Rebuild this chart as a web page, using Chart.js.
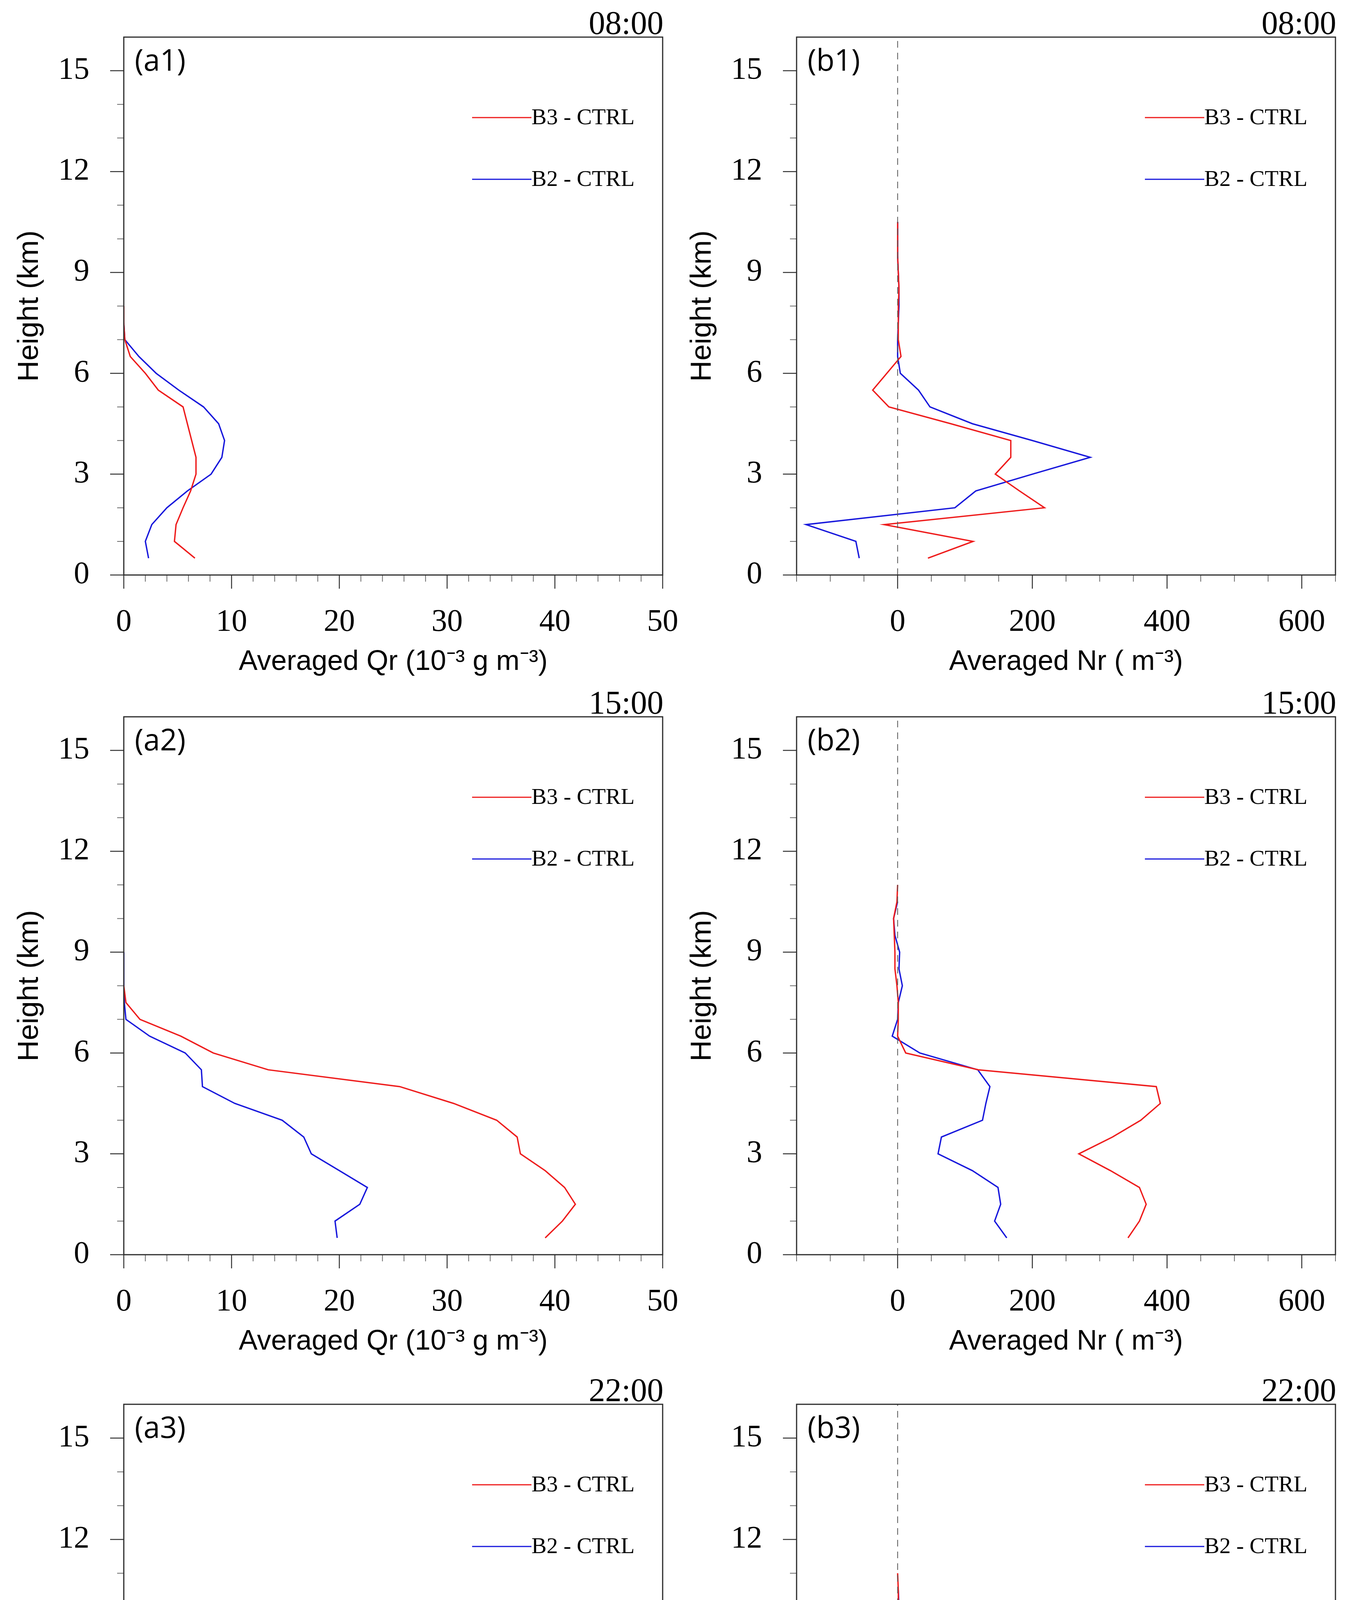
<!DOCTYPE html>
<html>
<head>
<meta charset="utf-8">
<title>Averaged Qr / Nr profiles</title>
<script src="https://cdn.jsdelivr.net/npm/chart.js@4.4.0/dist/chart.umd.min.js"></script>
<style>
  html, body { margin: 0; padding: 0; background: #fff; }
  #page { position: relative; width: 3447px; height: 5247px; overflow: hidden; }
  #page canvas { position: absolute; }
</style>
</head>
<body>
<div id="page">
  <canvas id="a1" width="1800" height="1740" style="left:0;top:0"></canvas>
  <canvas id="b1" width="1724" height="1740" style="left:1723px;top:0"></canvas>
  <canvas id="a2" width="1800" height="1740" style="left:0;top:1740px"></canvas>
  <canvas id="b2" width="1724" height="1740" style="left:1723px;top:1740px"></canvas>
  <canvas id="a3" width="1800" height="1747" style="left:0;top:3500px"></canvas>
  <canvas id="b3" width="1724" height="1747" style="left:1723px;top:3500px"></canvas>
</div>
<script>
// model levels (km), values below are listed from the lowest level upward
const heightKm = [0.5, 1, 1.5, 2, 2.5, 3, 3.5, 4, 4.5, 5, 5.5, 6, 6.5, 7, 7.5, 8, 8.5, 9, 9.5, 10, 10.5, 11];

const seriesLabels = ['B3 - CTRL', 'B2 - CTRL'];
const timeLabels = ['08:00', '15:00', '22:00'];
const panelTags = ['(a1)', '(b1)', '(a2)', '(b2)', '(a3)', '(b3)'];

// Averaged Qr (10^-3 g m^-3)
const qrB3_08 = [6.6, 4.7, 4.85, 5.5, 6.2, 6.7, 6.7, 6.3, 5.9, 5.5, 3.2, 2.0, 0.6, 0.1, 0, 0];
const qrB2_08 = [2.3, 2.0, 2.6, 4.0, 5.9, 8.1, 9.1, 9.35, 8.8, 7.4, 5.1, 3.0, 1.4, 0.1, 0];
const qrB3_15 = [39.1, 40.7, 41.9, 40.9, 39.1, 36.8, 36.5, 34.6, 30.6, 25.6, 13.4, 8.3, 5.3, 1.5, 0.2, 0];
const qrB2_15 = [19.8, 19.6, 21.9, 22.6, 20.0, 17.4, 16.7, 14.7, 10.3, 7.3, 7.2, 5.7, 2.4, 0.2, 0.05, 0, 0, 0];
const qrB3_22 = [26.2, 25.3, 26.6, 26.1, 23.9, 20.9, 17.2, 14.2, 12.8, 12.1, 6.7, 1.6, 0.4, 0, 0, 0, 0, 0, 0, 0];
const qrB2_22 = [14.3, 15.2, 16.7, 18.1, 17.5, 15.5, 12.6, 9.7, 10.6, 13.5, 9.4, 2.0, 0];

// Averaged Nr (m^-3)
const nrB3_08 = [45, 112, -20, 218, 181, 145, 168, 168, 79, -13, -37, -16, 5, 1, 1, 1, 2, 1, 0, 0, 0];
const nrB2_08 = [-57, -62, -136, 85, 116, 200, 286, 200, 111, 48, 31, 4, 0, 0, 1, 2, 2, 1, 0, 0, 0];
const nrB3_15 = [342, 359, 369, 359, 316, 269, 319, 361, 390, 384, 120, 12, 0, 1, 1, -1, -4, -4, -5, -6, -1, 0];
const nrB2_15 = [162, 144, 153, 149, 111, 60, 65, 126, 131, 137, 119, 33, -8, 0, 1, 7, 2, 3, -4, -6, 0];
const nrB3_22 = [644, 519, 483, 447, 338, 312, 338, 253, 231, 235, 42, -29, -16, -3, -16, -6, 26, 36, 8, 1, 1, 0];
const nrB2_22 = [220, 342, 303, 285, 296, 185, 131, 135, 282, 429, 390, 223, 56, 7, -10, 3, 1, 6, 4, 2, 1];

// axes
const heightRange = [0, 16];
const heightTicks = [0, 3, 6, 9, 12, 15];
const heightMinor = [1, 2, 4, 5, 7, 8, 10, 11, 13, 14];
const qrRange = [0, 50];
const qrTicks = [0, 10, 20, 30, 40, 50];
const qrMinor = [2, 4, 6, 8, 12, 14, 16, 18, 22, 24, 26, 28, 32, 34, 36, 38, 42, 44, 46, 48];
const nrRange = [-150, 650];
const nrTicks = [0, 200, 400, 600];
const nrMinor = [-150, -100, -50, 50, 100, 150, 250, 300, 350, 450, 500, 550, 650];
const zeroLineX = 0;

const qrTitle = 'Averaged Qr (10\u207B\u00B3 g m\u207B\u00B3)';
const nrTitle = 'Averaged Nr ( m\u207B\u00B3)';
const heightTitle = 'Height (km)';

const RED = '#ee1c1c';
const BLUE = '#1717dc';

function profile(values) {
    return values.map((v, i) => ({ x: v, y: heightKm[i] }));
}

// frame, outward tick marks, time stamp, panel tag and in-plot legend
const panelDecor = {
    id: 'panelDecor',
    afterDraw(chart, args, o) {
        const { ctx, chartArea: a, scales: { x, y } } = chart;
        ctx.save();
        ctx.lineCap = 'butt';

        ctx.strokeStyle = '#6a6a6a';
        ctx.lineWidth = 2;
        ctx.beginPath();
        o.xMinor.forEach(v => {
            const px = x.getPixelForValue(v);
            ctx.moveTo(px, a.bottom); ctx.lineTo(px, a.bottom + 17);
        });
        heightMinor.forEach(v => {
            const py = y.getPixelForValue(v);
            ctx.moveTo(a.left, py); ctx.lineTo(a.left - 17, py);
        });
        ctx.stroke();

        ctx.strokeStyle = '#333';
        ctx.lineWidth = 2.5;
        ctx.beginPath();
        o.xMajor.forEach(v => {
            const px = x.getPixelForValue(v);
            ctx.moveTo(px, a.bottom); ctx.lineTo(px, a.bottom + 35);
        });
        heightTicks.forEach(v => {
            const py = y.getPixelForValue(v);
            ctx.moveTo(a.left, py); ctx.lineTo(a.left - 35, py);
        });
        ctx.stroke();

        ctx.strokeStyle = '#2b2b2b';
        ctx.lineWidth = 3;
        ctx.strokeRect(a.left, a.top, a.right - a.left, a.bottom - a.top);

        ctx.fillStyle = '#000';
        ctx.font = '84px "Liberation Serif"';
        ctx.textAlign = 'right';
        ctx.textBaseline = 'alphabetic';
        ctx.fillText(o.time, a.right + 2, a.top - 8);

        ctx.font = '76px "Open Sans"';
        ctx.textAlign = 'left';
        ctx.textBaseline = 'middle';
        ctx.fillText(o.tag, a.left + 28, a.top + 64);

        ctx.font = '58px "Liberation Serif"';
        seriesLabels.forEach((label, i) => {
            const ly = a.top + 206 + i * 158;
            ctx.strokeStyle = i === 0 ? RED : BLUE;
            ctx.lineWidth = 3;
            ctx.beginPath();
            ctx.moveTo(a.left + 892, ly);
            ctx.lineTo(a.left + 1044, ly);
            ctx.stroke();
            ctx.fillText(label, a.left + 1044, ly + 2);
        });
        ctx.restore();
    }
};

function makePanel(id, kind, tag, time, b3, b2) {
    const isNr = kind === 'nr';
    const datasets = [
        { label: seriesLabels[0], data: profile(b3), borderColor: RED },
        { label: seriesLabels[1], data: profile(b2), borderColor: BLUE }
    ].map(d => Object.assign(d, { showLine: true, pointRadius: 0, borderWidth: 3.5, tension: 0, fill: false }));
    if (isNr) {
        datasets.unshift({
            label: 'zero',
            data: heightRange.map(h => ({ x: zeroLineX, y: h })),
            showLine: true, pointRadius: 0, borderWidth: 2,
            borderColor: '#555', borderDash: [17, 13], fill: false
        });
    }
    const xRange = isNr ? nrRange : qrRange;
    const xMajor = isNr ? nrTicks : qrTicks;
    const xMinor = isNr ? nrMinor : qrMinor;
    // plot area always spans 317..1697 inside its canvas
    const canvas = document.getElementById(id);
    const rightPad = canvas.width - 1697;

    return new Chart(canvas, {
        type: 'scatter',
        data: { datasets: datasets },
        options: {
            responsive: false,
            devicePixelRatio: 1,
            animation: false,
            events: [],
            layout: { padding: { top: 95, right: rightPad, left: 0, bottom: 0 } },
            plugins: {
                legend: { display: false },
                tooltip: { enabled: false },
                panelDecor: { xMajor: xMajor, xMinor: xMinor, time: time, tag: tag }
            },
            scales: {
                x: {
                    type: 'linear',
                    min: xRange[0],
                    max: xRange[1],
                    afterBuildTicks: s => { s.ticks = xMajor.map(v => ({ value: v })); },
                    afterFit: s => {
                        s.height = 268;
                        s.paddingLeft = 0; s.paddingRight = 0;
                        s.paddingTop = 0; s.paddingBottom = 0;
                    },
                    grid: { display: false },
                    border: { display: false },
                    ticks: {
                        autoSkip: false, maxRotation: 0, padding: 66, color: '#000',
                        font: { family: 'Liberation Serif', size: 80 }
                    },
                    title: {
                        display: true, text: isNr ? nrTitle : qrTitle, color: '#000',
                        font: { family: 'Liberation Sans', size: 72 },
                        padding: { top: 0, bottom: 2 }
                    }
                },
                y: {
                    type: 'linear',
                    min: heightRange[0],
                    max: heightRange[1],
                    afterBuildTicks: s => { s.ticks = heightTicks.map(v => ({ value: v })); },
                    afterFit: s => {
                        s.width = 317;
                        s.paddingLeft = 0; s.paddingRight = 0;
                        s.paddingTop = 0; s.paddingBottom = 0;
                    },
                    grid: { display: false },
                    border: { display: false },
                    ticks: {
                        autoSkip: false, padding: 80, color: '#000',
                        font: { family: 'Liberation Serif', size: 80 }
                    },
                    title: {
                        display: true, text: heightTitle, color: '#000',
                        font: { family: 'Liberation Sans', size: 75 },
                        padding: { top: 31, bottom: 0 }
                    }
                }
            }
        },
        plugins: [panelDecor]
    });
}

makePanel('a1', 'qr', panelTags[0], timeLabels[0], qrB3_08, qrB2_08);
makePanel('b1', 'nr', panelTags[1], timeLabels[0], nrB3_08, nrB2_08);
makePanel('a2', 'qr', panelTags[2], timeLabels[1], qrB3_15, qrB2_15);
makePanel('b2', 'nr', panelTags[3], timeLabels[1], nrB3_15, nrB2_15);
makePanel('a3', 'qr', panelTags[4], timeLabels[2], qrB3_22, qrB2_22);
makePanel('b3', 'nr', panelTags[5], timeLabels[2], nrB3_22, nrB2_22);
</script>
</body>
</html>
